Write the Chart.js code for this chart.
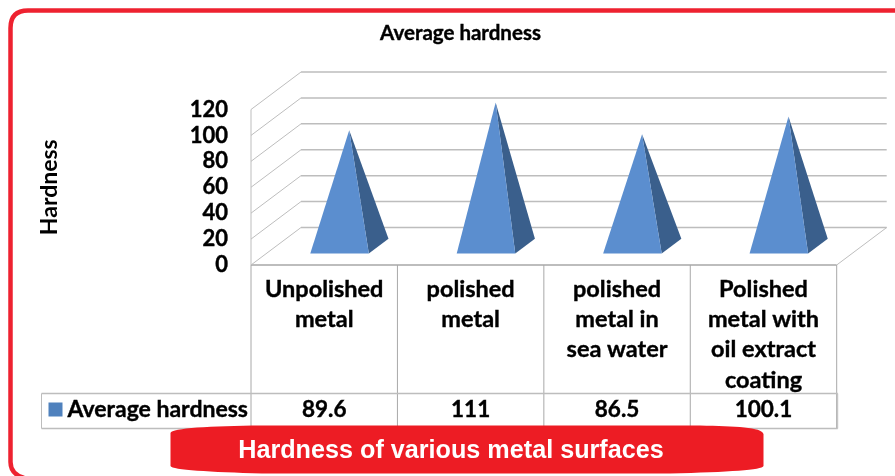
<!DOCTYPE html>
<html>
<head>
<meta charset="utf-8">
<title>Hardness of various metal surfaces</title>
<script src="https://cdn.jsdelivr.net/npm/chart.js@4/dist/chart.umd.min.js"></script>
<style>
    html, body { margin: 0; padding: 0; background: #fff; overflow: hidden; }
    #wrap { width: 895px; height: 476px; position: relative; }
</style>
</head>
<body>
<div id="wrap"><canvas id="hardnessChart" width="895" height="476"></canvas></div>
<script>
const categories = [
    ['Unpolished', 'metal'],
    ['polished', 'metal'],
    ['polished', 'metal in', 'sea water'],
    ['Polished', 'metal with', 'oil extract', 'coating']
];
const hardness = [89.6, 111, 86.5, 100.1];
const tickValues = [0, 20, 40, 60, 80, 100, 120];
const seriesName = 'Average hardness';
const axisName = 'Hardness';
const bannerText = 'Hardness of various metal surfaces';

const FONT = 'Lato, sans-serif';
const GRID = '#bdbdbd';
const TABLE_LINE = '#a8a8a8';
const RED = '#ed1c24';
const FRONT = '#5b8ecf';
const SIDE = '#3a5f8c';

// how far the back wall sits from the front plane
const DEPTH_X = 50;
const DEPTH_Y = 37.5;

function line(ctx, x1, y1, x2, y2, color, width) {
    ctx.strokeStyle = color;
    ctx.lineWidth = width || 1;
    ctx.beginPath();
    ctx.moveTo(x1, y1);
    ctx.lineTo(x2, y2);
    ctx.stroke();
}

// fill plus a hairline stroke so the bold text sits a little heavier
function heavyText(ctx, text, x, y) {
    ctx.strokeStyle = '#000';
    ctx.lineWidth = 0.4;
    ctx.strokeText(text, x, y);
    ctx.fillText(text, x, y);
}

// side wall, back wall and floor
const wallsPlugin = {
    id: 'walls',
    beforeDatasetsDraw(chart) {
        const { ctx, scales: { x, y } } = chart;
        const left = x.left, right = x.right;
        ctx.save();
        tickValues.forEach(v => {
            const py = y.getPixelForValue(v);
            line(ctx, left, py, left + DEPTH_X, py - DEPTH_Y, GRID, 1);
            line(ctx, left + DEPTH_X, py - DEPTH_Y, right + DEPTH_X, py - DEPTH_Y, GRID, 1.5);
        });
        const top = y.getPixelForValue(120), bottom = y.getPixelForValue(0);
        line(ctx, left, top, left, bottom, GRID, 1);
        line(ctx, right, bottom, right + DEPTH_X, bottom - DEPTH_Y, GRID, 1);
        ctx.restore();
    }
};

// each bar is painted as a pyramid standing in the middle of the floor
const pyramidPlugin = {
    id: 'pyramids',
    afterDatasetsDraw(chart) {
        const { ctx } = chart;
        const near = 0.307, far = 0.7;
        ctx.save();
        chart.getDatasetMeta(0).data.forEach(bar => {
            const half = bar.width / 2;
            const base = bar.base;
            const fx = bar.x + near * DEPTH_X, fy = base - near * DEPTH_Y;
            const apexX = bar.x + DEPTH_X / 2, apexY = bar.y - DEPTH_Y / 2;
            const backX = bar.x + half + far * DEPTH_X;
            const backY = base - far * DEPTH_Y;

            ctx.fillStyle = SIDE;
            ctx.beginPath();
            ctx.moveTo(apexX, apexY);
            ctx.lineTo(fx + half, fy);
            ctx.lineTo(backX, backY);
            ctx.closePath();
            ctx.fill();

            ctx.fillStyle = FRONT;
            ctx.beginPath();
            ctx.moveTo(apexX, apexY);
            ctx.lineTo(fx - half, fy);
            ctx.lineTo(fx + half, fy);
            ctx.closePath();
            ctx.fill();
        });
        ctx.restore();
    }
};

// data table under the axis, chart heading, frame and red banner
const tablePlugin = {
    id: 'table',
    afterDraw(chart) {
        const { ctx, scales: { x, y } } = chart;
        const floor = y.getPixelForValue(0);
        const rowTop = 393.5, rowBottom = 428.5, tableLeft = 41.5;
        const cell = (x.right - x.left) / categories.length;

        ctx.save();
        line(ctx, x.left, floor, x.right, floor, GRID, 2);
        for (let i = 0; i <= categories.length; i++) {
            const px = x.left + i * cell;
            line(ctx, px, floor, px, rowBottom, TABLE_LINE, 1);
        }
        line(ctx, tableLeft, rowTop, x.right + 1, rowTop, GRID, 1.5);
        line(ctx, tableLeft, rowBottom, x.right + 1, rowBottom, GRID, 1.5);
        line(ctx, tableLeft, rowTop, tableLeft, rowBottom, GRID, 1);
        line(ctx, x.right + 1, rowTop, x.right + 1, rowBottom, GRID, 1);

        ctx.fillStyle = '#4f81bd';
        ctx.fillRect(48.5, 402.5, 14, 14);

        ctx.fillStyle = '#000';
        ctx.textBaseline = 'middle';
        ctx.textAlign = 'left';
        ctx.font = 'bold 23px ' + FONT;
        heavyText(ctx, seriesName, 67.5, 409.5);
        ctx.textAlign = 'center';
        ctx.font = 'bold 22.5px ' + FONT;
        hardness.forEach((v, i) => {
            heavyText(ctx, String(v), x.getPixelForValue(i), 409.5);
        });

        ctx.font = 'bold 20.5px ' + FONT;
        heavyText(ctx, seriesName, 460.5, 33.5);

        // outer frame runs off the right and bottom of the canvas
        ctx.strokeStyle = '#ee2230';
        ctx.lineWidth = 4.5;
        ctx.beginPath();
        ctx.moveTo(896, 10.5);
        ctx.lineTo(28, 10.5);
        ctx.quadraticCurveTo(10.5, 10.5, 10.5, 28);
        ctx.lineTo(10.5, 462);
        ctx.quadraticCurveTo(10.5, 474, 24, 478);
        ctx.stroke();

        // banner
        ctx.fillStyle = RED;
        ctx.beginPath();
        ctx.moveTo(170.5, 433);
        ctx.bezierCurveTo(172, 428, 210, 426, 262, 425.5);
        ctx.lineTo(700, 425.5);
        ctx.bezierCurveTo(735, 426.5, 762, 427, 763.5, 434);
        ctx.lineTo(763.5, 466);
        ctx.bezierCurveTo(762, 470, 730, 472, 670, 473.5);
        ctx.lineTo(262, 473.5);
        ctx.bezierCurveTo(210, 472, 172, 470, 170.5, 466);
        ctx.closePath();
        ctx.fill();

        ctx.fillStyle = '#fff';
        ctx.font = 'bold 25.2px "Liberation Sans", Arial, sans-serif';
        ctx.fillText(bannerText, 451, 451);
        ctx.restore();
    }
};

document.addEventListener('DOMContentLoaded', () => {
    const ctx = document.getElementById('hardnessChart').getContext('2d');
    new Chart(ctx, {
        type: 'bar',
        data: {
            labels: categories,
            datasets: [{
                label: seriesName,
                data: hardness,
                backgroundColor: 'rgba(0,0,0,0)',
                barPercentage: 0.4,
                categoryPercentage: 1
            }]
        },
        options: {
            responsive: false,
            animation: false,
            layout: { padding: { left: 36, right: 58.3, top: 109.5, bottom: 0 } },
            plugins: {
                legend: { display: false },
                tooltip: { enabled: false }
            },
            scales: {
                x: {
                    grid: { display: false },
                    border: { display: false },
                    ticks: {
                        autoSkip: false,
                        maxRotation: 0,
                        minRotation: 0,
                        padding: 1,
                        color: '#000',
                        textStrokeColor: '#000',
                        textStrokeWidth: 0.4,
                        font: { family: FONT, size: 23.5, weight: 'bold', lineHeight: 1.29 }
                    },
                    afterFit(scale) { scale.height = 211; }
                },
                y: {
                    min: 0,
                    max: 120,
                    grid: { display: false },
                    border: { display: false },
                    afterBuildTicks(scale) { scale.ticks = tickValues.map(value => ({ value })); },
                    ticks: {
                        autoSkip: false,
                        padding: 15,
                        color: '#000',
                        textStrokeColor: '#000',
                        textStrokeWidth: 0.4,
                        font: { family: FONT, size: 22, weight: 'bold' }
                    },
                    title: {
                        display: true,
                        text: axisName,
                        color: '#000',
                        padding: 0,
                        font: { family: FONT, size: 23, weight: 'bold' }
                    },
                    afterFit(scale) { scale.width = 215; }
                }
            }
        },
        plugins: [wallsPlugin, pyramidPlugin, tablePlugin]
    });
});
</script>
</body>
</html>
